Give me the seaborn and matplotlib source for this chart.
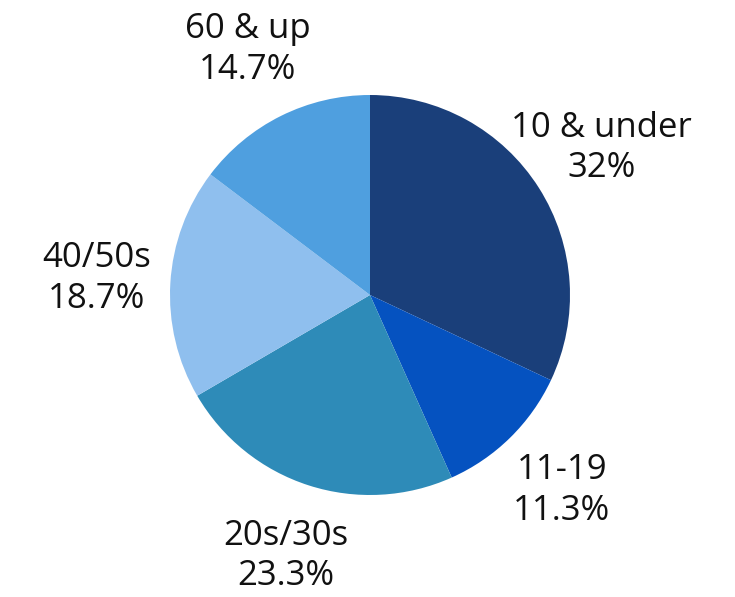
import matplotlib

matplotlib.use("Agg")
import matplotlib.pyplot as plt
import seaborn as sns

groups = ["10 & under", "11-19", "20s/30s", "40/50s", "60 & up"]
shares = [32.0, 11.3, 23.3, 18.7, 14.7]
share_labels = ["32%", "11.3%", "23.3%", "18.7%", "14.7%"]
colors = ["#1a3f7a", "#0552c0", "#2e8bb8", "#8fbfee", "#4f9fdf"]

sns.set_theme(style="white")
plt.rcParams["font.family"] = ["Open Sans", "DejaVu Sans"]

fig = plt.figure(figsize=(7.35, 5.97), dpi=100)
ax = fig.add_axes([0, 0, 1, 1])

labels = [f"{g}\n{s}" for g, s in zip(groups, share_labels)]
wedges, texts = ax.pie(
    shares,
    labels=labels,
    colors=sns.color_palette(colors),
    startangle=90,
    counterclock=False,
    labeldistance=1.37,
    wedgeprops={"linewidth": 0},
    textprops={"fontsize": 25, "color": "#111111", "linespacing": 1.25},
)
for t in texts:
    t.set_ha("center")
    t.set_va("center")

ax.set_aspect("auto")
ax.set_xlim(-1.85, 1.825)
ax.set_ylim(-1.51, 1.475)
ax.set_axis_off()

fig.savefig("out.png", dpi=100)
plt.close(fig)
